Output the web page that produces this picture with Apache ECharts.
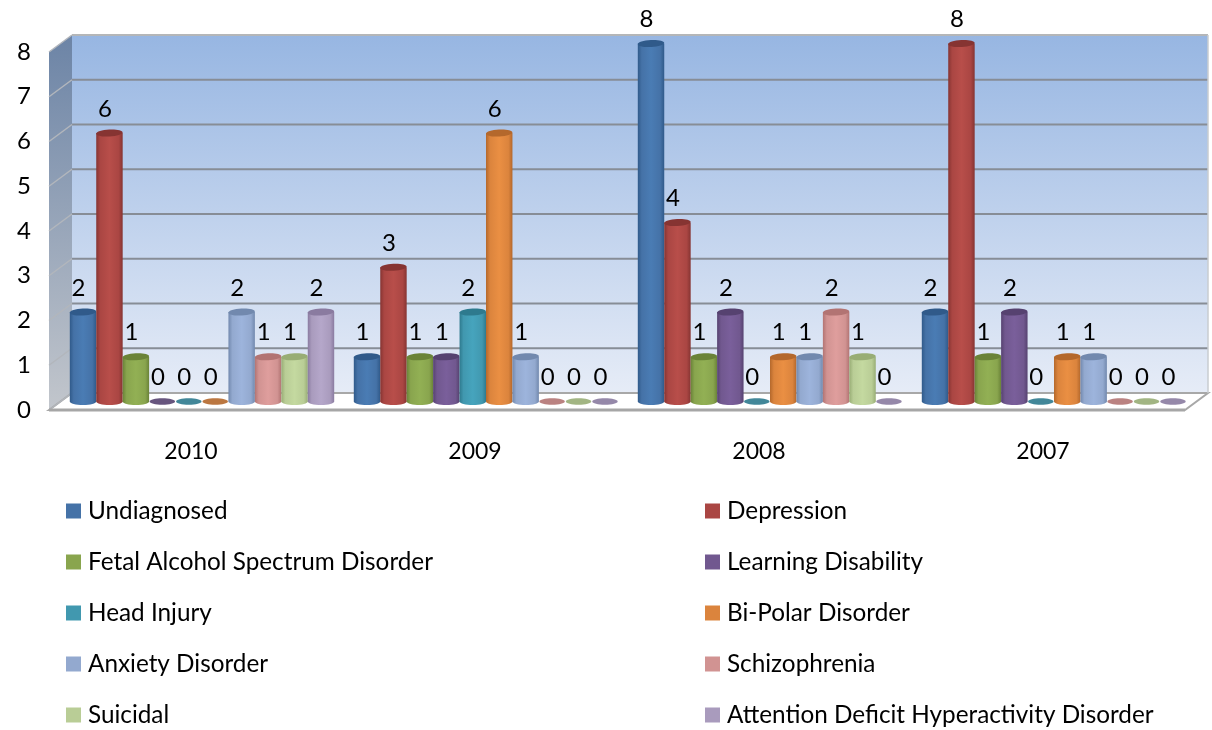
<!DOCTYPE html>
<html>
<head>
<meta charset="utf-8">
<title>Diagnoses by year</title>
<style>html,body{margin:0;padding:0;background:#fff}#chart{width:1212px;height:730px}</style>
<script src="https://cdn.jsdelivr.net/npm/echarts@6/dist/echarts.min.js"></script>
</head>
<body>
<div id="chart"></div>
<script>
const years = ['2010', '2009', '2008', '2007'];
const yTicks = [0, 1, 2, 3, 4, 5, 6, 7, 8];

const undiagnosed = [2, 1, 8, 2];
const depression = [6, 3, 4, 8];
const fetalAlcohol = [1, 1, 1, 1];
const learningDisability = [0, 1, 2, 2];
const headInjury = [0, 2, 0, 0];
const biPolar = [0, 6, 1, 1];
const anxiety = [2, 1, 1, 1];
const schizophrenia = [1, 0, 2, 0];
const suicidal = [1, 0, 1, 0];
const adhd = [2, 0, 0, 0];

const seriesDefs = [
  { name: 'Undiagnosed', values: undiagnosed, color: '#4572A7', dark: '#305a8a', light: '#4a7cb4' },
  { name: 'Depression', values: depression, color: '#AA4643', dark: '#863432', light: '#b84e4a' },
  { name: 'Fetal Alcohol Spectrum Disorder', values: fetalAlcohol, color: '#89A54E', dark: '#6a8338', light: '#92b054' },
  { name: 'Learning Disability', values: learningDisability, color: '#71588F', dark: '#564270', light: '#7a5f9b' },
  { name: 'Head Injury', values: headInjury, color: '#4198AF', dark: '#2e7a8e', light: '#46a4bd' },
  { name: 'Bi-Polar Disorder', values: biPolar, color: '#DB843D', dark: '#b4682c', light: '#ea8f43' },
  { name: 'Anxiety Disorder', values: anxiety, color: '#93A9CF', dark: '#7289ae', light: '#9db4dc' },
  { name: 'Schizophrenia', values: schizophrenia, color: '#D19392', dark: '#b27473', light: '#df9e9d' },
  { name: 'Suicidal', values: suicidal, color: '#B9CD96', dark: '#98ad75', light: '#c4d9a0' },
  { name: 'Attention Deficit Hyperactivity Disorder', values: adhd, color: '#A99BBD', dark: '#8a7ba0', light: '#b5a7ca' }
];

// Projection offsets of the oblique view: the axes sit on the front plane,
// the columns halfway back, and the wall at full depth.
const WALL_DX = 23, WALL_DY = -17;
const BAR_DX = 11, BAR_DY = -8.5;
const BAR_PITCH = 0.0931;   // column spacing as a share of the category band
const FONT = 'Lato, "Open Sans", sans-serif';

function renderWalls(params, api) {
  const floorL = api.coord([0, 0]);
  const band = api.size([1, 0])[0];
  const left = floorL[0] - band / 2;
  const right = left + band * years.length;
  const yBase = floorL[1];
  const yTop = api.coord([0, yTicks[yTicks.length - 1]])[1];
  const children = [];

  // side wall
  children.push({
    type: 'polygon',
    shape: { points: [[left, yTop], [left + WALL_DX, yTop + WALL_DY], [left + WALL_DX, yBase + WALL_DY], [left, yBase]] },
    style: { fill: { type: 'linear', x: 0, y: 0, x2: 0, y2: 1, colorStops: [{ offset: 0, color: '#6c84a6' }, { offset: 1, color: '#c2c6cc' }] } }
  });
  // back wall
  children.push({
    type: 'rect',
    shape: { x: left + WALL_DX, y: yTop + WALL_DY, width: right - left, height: yBase - yTop },
    style: { fill: { type: 'linear', x: 0, y: 0, x2: 0, y2: 1, colorStops: [{ offset: 0, color: '#97b6e2' }, { offset: 1, color: '#e6ecf7' }] } }
  });
  // floor
  children.push({
    type: 'polygon',
    shape: { points: [[left, yBase], [left + WALL_DX, yBase + WALL_DY], [right + WALL_DX, yBase + WALL_DY], [right, yBase]] },
    style: { fill: '#ffffff', stroke: '#a8a8a8', lineWidth: 2 }
  });
  // gridlines along the back wall and across the side wall
  yTicks.forEach(function (t) {
    const y = api.coord([0, t])[1];
    const top = t === yTicks[yTicks.length - 1];
    if (t > 0) {
      children.push({
        type: 'line',
        shape: { x1: left + WALL_DX, y1: y + WALL_DY, x2: right + WALL_DX, y2: y + WALL_DY },
        style: { stroke: top ? '#b4b6b8' : '#878d96', lineWidth: 2 }
      });
    }
    children.push({
      type: 'line',
      shape: { x1: left, y1: y, x2: left + WALL_DX, y2: y + WALL_DY },
      style: { stroke: '#b2b6bc', lineWidth: 1.5 }
    });
  });
  // right edge of the back wall and the heavier front floor edge
  children.push({
    type: 'line',
    shape: { x1: right + WALL_DX, y1: yTop + WALL_DY, x2: right + WALL_DX, y2: yBase + WALL_DY },
    style: { stroke: '#c9ccd0', lineWidth: 1.5 }
  });
  children.push({
    type: 'line',
    shape: { x1: left, y1: yBase, x2: right, y2: yBase },
    style: { stroke: '#a6a6a6', lineWidth: 3 }
  });
  return { type: 'group', children: children };
}

function cylinderRenderer(index, def) {
  return function (params, api) {
    const cat = api.value(0);
    const val = api.value(1);
    const band = api.size([1, 0])[0];
    const pitch = band * BAR_PITCH;
    const base = api.coord([cat, 0]);
    const top = api.coord([cat, val]);
    const cx = base[0] + BAR_DX + (index - 4.5) * pitch;
    const yb = base[1] + BAR_DY;
    const yt = top[1] + BAR_DY;
    const rx = pitch / 2;
    const children = [];
    const side = {
      type: 'linear', x: 0, y: 0, x2: 1, y2: 0,
      colorStops: [
        { offset: 0, color: def.dark },
        { offset: 0.15, color: def.color },
        { offset: 0.5, color: def.light },
        { offset: 0.85, color: def.color },
        { offset: 1, color: def.dark }
      ]
    };
    if (val > 0) {
      children.push({ type: 'ellipse', shape: { cx: cx, cy: yb, rx: rx, ry: 3.5 }, style: { fill: side } });
      children.push({ type: 'rect', shape: { x: cx - rx, y: yt, width: rx * 2, height: yb - yt }, style: { fill: side } });
      children.push({
        type: 'ellipse', shape: { cx: cx, cy: yt, rx: rx, ry: 3.5 },
        rotation: 0.05, originX: cx, originY: yt,
        style: { fill: def.dark }
      });
    } else {
      children.push({ type: 'ellipse', shape: { cx: cx, cy: yb, rx: rx - 0.5, ry: 3.2 }, style: { fill: def.dark, opacity: 0.9 } });
    }
    children.push({
      type: 'text', z2: 100,
      style: {
        x: cx - 4.5, y: yt - 24, text: String(val), fill: '#000',
        font: '24px ' + FONT, align: 'center', verticalAlign: 'middle'
      }
    });
    return { type: 'group', children: children };
  };
}

const legendBase = {
  orient: 'vertical', top: 499, padding: 0, itemWidth: 15, itemHeight: 15, itemGap: 27,
  icon: 'rect', selectedMode: false,
  textStyle: { fontSize: 24.3, color: '#000', fontFamily: FONT, padding: [0, 0, 0, 2] }
};

const option = {
  animation: false,
  backgroundColor: '#ffffff',
  textStyle: { fontFamily: FONT },
  grid: { left: 49, top: 52, width: 1136, height: 358 },
  xAxis: {
    type: 'category', data: years,
    axisLine: { show: false }, axisTick: { show: false },
    axisLabel: { fontSize: 23, color: '#000', margin: 30, fontFamily: FONT }
  },
  yAxis: {
    type: 'value', min: 0, max: 8, interval: 1,
    axisLine: { show: false }, axisTick: { show: false }, splitLine: { show: false },
    axisLabel: { fontSize: 24, color: '#000', margin: 18, fontFamily: FONT }
  },
  legend: [
    Object.assign({}, legendBase, {
      left: 66,
      data: seriesDefs.filter(function (d, i) { return i % 2 === 0; }).map(function (d) { return d.name; })
    }),
    Object.assign({}, legendBase, {
      left: 705,
      data: seriesDefs.filter(function (d, i) { return i % 2 === 1; }).map(function (d) { return d.name; })
    })
  ],
  series: [{
    type: 'custom', name: 'walls', silent: true, z: 1,
    data: [[0, 0]], encode: { x: 0, y: 1 },
    renderItem: renderWalls
  }].concat(seriesDefs.map(function (def, i) {
    return {
      type: 'custom', name: def.name, z: 2,
      itemStyle: { color: def.color },
      encode: { x: 0, y: 1 },
      data: def.values.map(function (v, c) { return [c, v]; }),
      renderItem: cylinderRenderer(i, def)
    };
  }))
};

echarts.init(document.getElementById('chart')).setOption(option);
</script>
</body>
</html>
